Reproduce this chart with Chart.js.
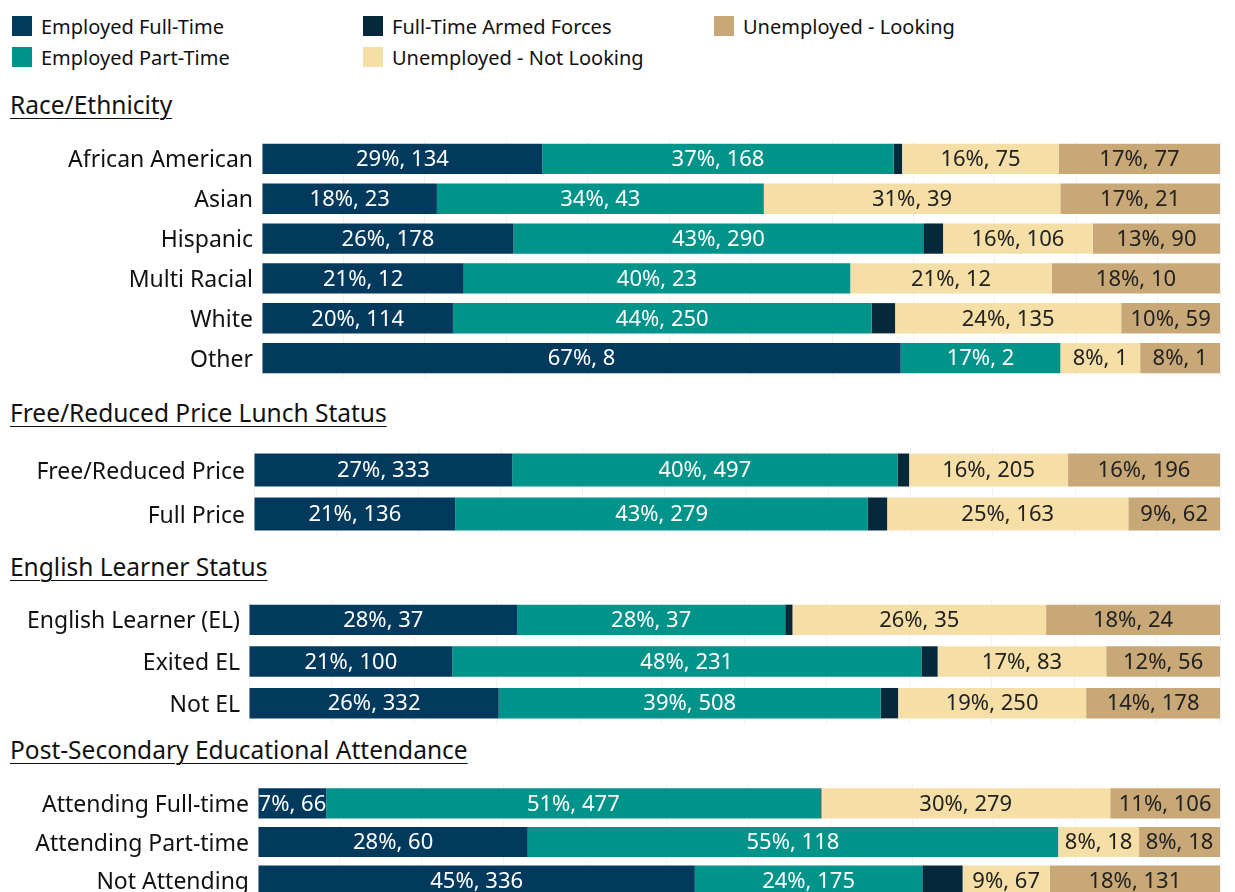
<!DOCTYPE html>
<html>
<head>
<meta charset="utf-8">
<script src="https://cdn.jsdelivr.net/npm/chart.js@4.4.0/dist/chart.umd.min.js"></script>
<style>
  body { margin: 0; width: 1235px; height: 892px; overflow: hidden; background: #fff; font-family: "Noto Sans", sans-serif; color: #111; }
  .legend { position: absolute; font-size: 20px; }
  .legend span.sw { position: absolute; width: 20px; height: 20px; left: 0; top: 0px; }
  .legend .lab { position: absolute; left: 29px; top: -3px; white-space: nowrap; }
  .title { position: absolute; left: 10px; font-size: 24.5px; line-height: 32px; text-decoration: underline; text-decoration-thickness: 1px; text-underline-offset: 4px; white-space: nowrap; }
  .wrap { position: absolute; left: 0; width: 1235px; }
</style>
</head>
<body>
<div id="legends"></div>
<div class="title" style="top:89px">Race/Ethnicity</div>
<div class="wrap" style="top:139px;height:239px"><canvas id="raceChart"></canvas></div>
<div class="title" style="top:397px">Free/Reduced Price Lunch Status</div>
<div class="wrap" style="top:448px;height:88px"><canvas id="lunchChart"></canvas></div>
<div class="title" style="top:551px">English Learner Status</div>
<div class="wrap" style="top:599px;height:125px"><canvas id="elChart"></canvas></div>
<div class="title" style="top:734px">Post-Secondary Educational Attendance</div>
<div class="wrap" style="top:784px;height:116px"><canvas id="psChart"></canvas></div>
<script>
// Séries e cores
const seriesNames = ['Employed Full-Time', 'Employed Part-Time', 'Full-Time Armed Forces', 'Unemployed - Not Looking', 'Unemployed - Looking'];
const seriesColors = ['#023a5e', '#00938a', '#05293a', '#f6dfa6', '#c8a877'];
const labelColors = ['#ffffff', '#ffffff', null, '#222222', '#222222'];

// Raça/Etnia (contagens por série)
const raceLabels = ['African American', 'Asian', 'Hispanic', 'Multi Racial', 'White', 'Other'];
const raceFullTime = [134, 23, 178, 12, 114, 8];
const racePartTime = [168, 43, 290, 23, 250, 2];
const raceArmed = [4, 0, 14, 0, 14, 0];
const raceNotLooking = [75, 39, 106, 12, 135, 1];
const raceLooking = [77, 21, 90, 10, 59, 1];

// Almoço gratuito/reduzido
const lunchLabels = ['Free/Reduced Price', 'Full Price'];
const lunchFullTime = [333, 136];
const lunchPartTime = [497, 279];
const lunchArmed = [15, 13];
const lunchNotLooking = [205, 163];
const lunchLooking = [196, 62];

// English Learner
const elLabels = ['English Learner (EL)', 'Exited EL', 'Not EL'];
const elFullTime = [37, 100, 332];
const elPartTime = [37, 231, 508];
const elArmed = [1, 8, 23];
const elNotLooking = [35, 83, 250];
const elLooking = [24, 56, 178];

// Pós-secundário
const psLabels = ['Attending Full-time', 'Attending Part-time', 'Not Attending'];
const psFullTime = [66, 60, 336];
const psPartTime = [477, 118, 175];
const psArmed = [1, 0, 31];
const psNotLooking = [279, 18, 67];
const psLooking = [106, 18, 131];

// Legenda em HTML (colunas)
const legendPos = [[12, 16], [12, 47], [363, 16], [363, 47], [714, 16]];
const legendBox = document.getElementById('legends');
seriesNames.forEach((name, i) => {
    const d = document.createElement('div');
    d.className = 'legend';
    d.style.left = legendPos[i][0] + 'px';
    d.style.top = legendPos[i][1] + 'px';
    d.innerHTML = '<span class="sw" style="background:' + seriesColors[i] + '"></span><span class="lab">' + name + '</span>';
    legendBox.appendChild(d);
});

// Rótulos dentro das barras
const barLabelPlugin = {
    id: 'barLabels',
    afterDatasetsDraw(chart) {
        const ctx = chart.ctx;
        ctx.save();
        ctx.font = '22px "Noto Sans", sans-serif';
        ctx.textAlign = 'center';
        ctx.textBaseline = 'middle';
        chart.data.datasets.forEach((ds, di) => {
            if (!labelColors[di]) return;
            const meta = chart.getDatasetMeta(di);
            meta.data.forEach((bar, i) => {
                const n = ds.counts[i];
                if (!n) return;
                const txt = Math.round(ds.data[i]) + '%, ' + n;
                const w = Math.abs(bar.x - bar.base);
                let x = (bar.x + bar.base) / 2;
                const tw = ctx.measureText(txt).width;
                if (tw > w) x = Math.min(bar.base, bar.x) + tw / 2 + 1;
                ctx.fillStyle = labelColors[di];
                ctx.fillText(txt, x, bar.y + 1);
            });
        });
        ctx.restore();
    }
};

function makeChart(id, labels, seriesCounts, leftEdge, barPct) {
    const totals = labels.map((_, i) => seriesCounts.reduce((s, arr) => s + arr[i], 0));
    const datasets = seriesCounts.map((arr, k) => ({
        label: seriesNames[k],
        data: arr.map((v, i) => v / totals[i] * 100),
        counts: arr,
        backgroundColor: seriesColors[k],
        borderWidth: 0,
        barPercentage: barPct,
        categoryPercentage: 1
    }));
    return new Chart(document.getElementById(id), {
        type: 'bar',
        data: { labels: labels, datasets: datasets },
        options: {
            indexAxis: 'y',
            responsive: true,
            maintainAspectRatio: false,
            animation: false,
            layout: { padding: { left: 0, right: 15, top: 0, bottom: 0 } },
            plugins: { legend: { display: false }, tooltip: { enabled: false } },
            scales: {
                x: {
                    stacked: true, min: 0, max: 100, display: true,
                    ticks: { display: false, stepSize: 8.5 },
                    grid: { color: 'rgba(0,0,0,0.05)', drawTicks: false },
                    border: { display: false },
                    afterFit(scale) { scale.height = 0; scale.paddingLeft = 0; scale.paddingRight = 0; }
                },
                y: {
                    stacked: true,
                    ticks: { color: '#111', font: { family: '"Noto Sans", sans-serif', size: 23 }, padding: 9, labelOffset: 2 },
                    grid: { display: false, drawTicks: false },
                    border: { display: false },
                    afterFit(scale) { scale.width = leftEdge; scale.paddingTop = 0; scale.paddingBottom = 0; }
                }
            }
        },
        plugins: [barLabelPlugin]
    });
}

makeChart('raceChart', raceLabels, [raceFullTime, racePartTime, raceArmed, raceNotLooking, raceLooking], 262, 0.76);
makeChart('lunchChart', lunchLabels, [lunchFullTime, lunchPartTime, lunchArmed, lunchNotLooking, lunchLooking], 254, 0.75);
makeChart('elChart', elLabels, [elFullTime, elPartTime, elArmed, elNotLooking, elLooking], 249, 0.73);
makeChart('psChart', psLabels, [psFullTime, psPartTime, psArmed, psNotLooking, psLooking], 258, 0.78);
</script>
</body>
</html>
